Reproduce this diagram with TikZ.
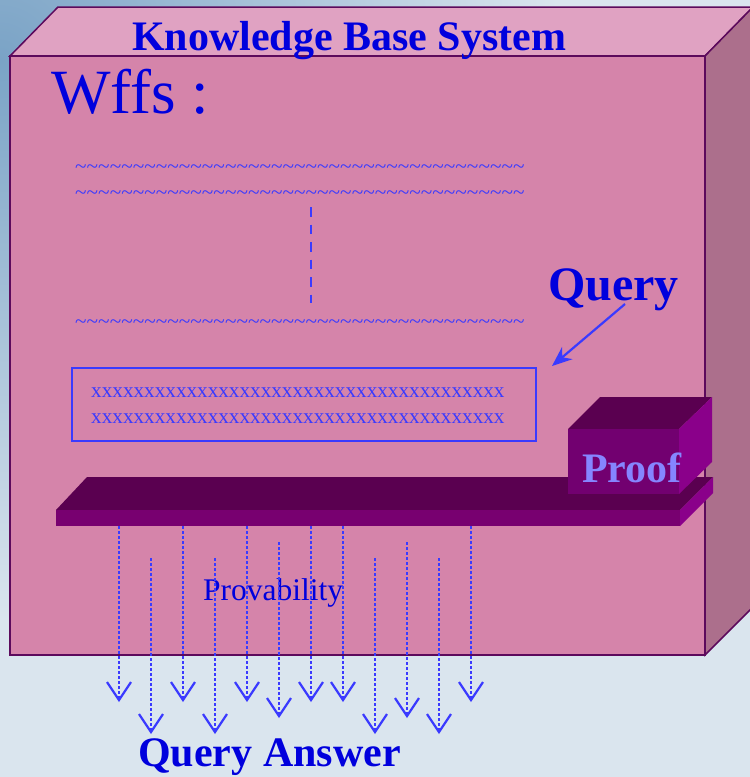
\documentclass[tikz,border=0pt]{standalone}
\usepackage{fontspec}
\setmainfont{Liberation Serif}
\usetikzlibrary{arrows.meta}
\definecolor{bgc}{HTML}{DAE5EE}
\definecolor{bgdark}{HTML}{7AA3C6}
\definecolor{boxfront}{HTML}{D584AA}
\definecolor{boxtop}{HTML}{E0A2C2}
\definecolor{boxside}{HTML}{AC6F8C}
\definecolor{boxline}{HTML}{5C0A5C}
\definecolor{bartop}{HTML}{5A0050}
\definecolor{barfront}{HTML}{780070}
\definecolor{barside}{HTML}{8A008A}
\definecolor{prooffront}{HTML}{720070}
\definecolor{prooftext}{HTML}{8585FF}
\definecolor{titleblue}{HTML}{0000DD}
\definecolor{lineblue}{HTML}{3A3AFF}
\tikzset{
  facebox/.style={draw=boxline, line width=1.5pt, line join=miter},
  bigbold/.style={inner sep=0pt, text=titleblue, font=\bfseries\fontsize{42}{50}\selectfont},
  filltext/.style={inner sep=0pt, text=lineblue, font=\fontsize{21.3}{25}\selectfont},
  dotarrow/.style={draw=lineblue, line width=2.5pt, dash pattern=on 2.5pt off 2.5pt,
     -{Straight Barb[length=18pt,width=24pt,line width=2.2pt]}},
  qarrow/.style={draw=lineblue, line width=2.2pt, -{Stealth[length=20pt,width=16pt]}}
}
\begin{document}
\begin{tikzpicture}[x=1pt,y=-1pt]
\useasboundingbox (0,0) rectangle (750,777);
\clip (0,0) rectangle (750,777);
% background
\fill[bgc] (0,0) rectangle (750,777);
\shade[inner color=bgdark, outer color=bgc] (0,60) circle (560pt);
% knowledge base cube
\filldraw[facebox, fill=boxtop] (10,56) -- (58,7) -- (753,7) -- (705,56) -- cycle;
\filldraw[facebox, fill=boxside] (705,56) -- (753,7) -- (753,607) -- (705,655) -- cycle;
\filldraw[facebox, fill=boxfront] (10,56) rectangle (705,655);
% bar
\fill[bartop] (56,510) -- (87,477) -- (713,477) -- (680,510) -- cycle;
\fill[barfront] (56,510) rectangle (680,526);
\fill[barside] (680,510) -- (713,477) -- (713,493) -- (680,526) -- cycle;
% proof block
\fill[bartop] (568,429) -- (600,397) -- (712,397) -- (679,429) -- cycle;
\fill[prooffront] (568,429) rectangle (679,494);
\fill[barside] (679,429) -- (712,397) -- (712,462) -- (679,494) -- cycle;
% texts
\node[bigbold, anchor=base] (kbs) at (349,50) {Knowledge Base System};
\node[inner sep=0pt, text=titleblue, font=\fontsize{63}{70}\selectfont, anchor=base west] (wffs) at (51,113) {Wffs :};
\node[filltext, anchor=base west] (t1) at (75,173) {\foreach \i in {1,...,39}{\textasciitilde}};
\node[filltext, anchor=base west] (t2) at (75,199) {\foreach \i in {1,...,39}{\textasciitilde}};
\node[filltext, anchor=base west] (t3) at (75,328) {\foreach \i in {1,...,39}{\textasciitilde}};
\coordinate (dtop) at (311,207);
\coordinate (dbot) at (311,303);
\draw[lineblue, line width=2.2pt, dash pattern=on 9.5pt off 8pt] (dtop) -- (dbot);
% x box
\node[draw=lineblue, line width=2pt, minimum width=464pt, minimum height=73pt, inner sep=0pt, anchor=north west] (xbox) at (71,367) {};
\node[filltext, font=\fontsize{21.2}{25}\selectfont, anchor=base west] (x1) at (91,397) {\foreach \i in {1,...,39}{x}};
\node[filltext, font=\fontsize{21.2}{25}\selectfont, anchor=base west] (x2) at (91,423) {\foreach \i in {1,...,39}{x}};
% query
\node[bigbold, font=\bfseries\fontsize{48}{55}\selectfont, anchor=base west] (query) at (548,300) {Query};
\coordinate (qs) at (625,304);
\coordinate (qt) at (552,366);
\draw[qarrow] (qs) -- (qt);
\node[inner sep=0pt, text=prooftext, font=\bfseries\fontsize{42}{50}\selectfont, anchor=base west] (proof) at (582,482) {Proof};
\node[inner sep=0pt, text=titleblue, font=\fontsize{31.5}{36}\selectfont, anchor=base west] (prov) at (203,600) {Provability};
% dotted arrows
\foreach \k/\ys in {0/526,1/558,2/526,3/558,4/526,5/542,6/526,7/526,8/558,9/542,10/558,11/526}{
  \coordinate (s\k) at (119+32*\k,\ys);
  \coordinate (e\k) at (119+32*\k,\ys+176);
  \draw[dotarrow] (s\k) -- (e\k);
}
\node[bigbold, anchor=base west] (qans) at (138,766) {Query Answer};
\end{tikzpicture}
\end{document}
